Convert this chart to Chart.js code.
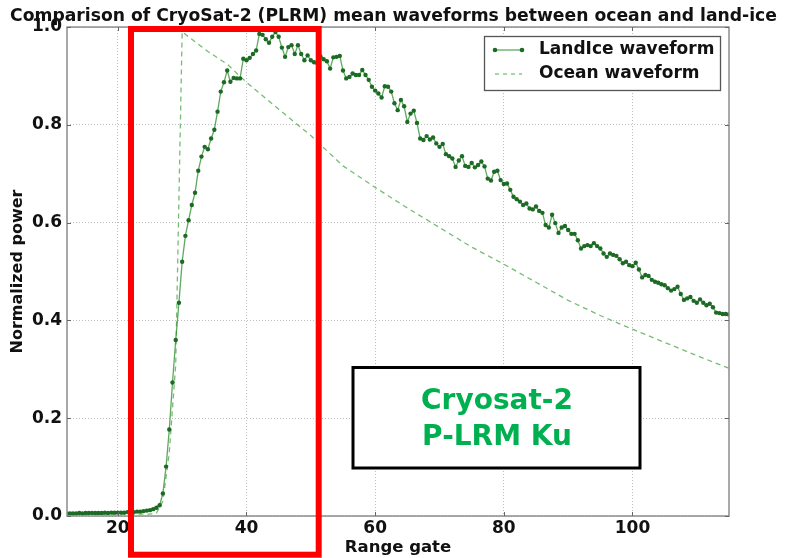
<!DOCTYPE html>
<html>
<head>
<meta charset="utf-8">
<script src="https://cdn.jsdelivr.net/npm/chart.js@4.4.0/dist/chart.umd.min.js"></script>
<style>
  html, body { margin: 0; padding: 0; background: #fff; }
  #wrap { position: relative; width: 787px; height: 558px; }
</style>
</head>
<body>
<div id="wrap"><canvas id="chart" width="787" height="558"></canvas></div>
<script>
// ---- values ----
const chartTitle = "Comparison of CryoSat-2 (PLRM) mean waveforms between ocean and land-ice";
const seriesNames = ["LandIce waveform", "Ocean waveform"];
const boxLines = ["Cryosat-2", "P-LRM Ku"];
const xTitle = "Range gate";
const yTitle = "Normalized power";

const xTicks = [20, 40, 60, 80, 100];
const yTicks = [0, 0.2, 0.4, 0.6, 0.8, 1.0];

// land-ice mean waveform, one sample every half range gate starting at gate 12
const landStart = 12;
const landStep = 0.5;
const landPower = [
  0.005, 0.005, 0.005, 0.005, 0.006, 0.005, 0.006, 0.006, 0.006, 0.006,
  0.006, 0.006, 0.007, 0.006, 0.007, 0.007, 0.007, 0.007, 0.007, 0.008,
  0.008, 0.008, 0.009, 0.009, 0.010, 0.011, 0.012, 0.014, 0.017,
  0.022, 0.046, 0.101, 0.177, 0.273, 0.360, 0.436, 0.520, 0.573,
  0.605, 0.636, 0.661, 0.706, 0.735, 0.755, 0.750, 0.772, 0.790, 0.827,
  0.868, 0.887, 0.911, 0.888, 0.896, 0.895, 0.895, 0.935, 0.932, 0.937,
  0.945, 0.952, 0.986, 0.984, 0.975, 0.968, 0.980, 0.990, 0.980, 0.958,
  0.939, 0.959, 0.963, 0.945, 0.963, 0.945, 0.932, 0.942, 0.932, 0.928,
  0.926, 0.940, 0.934, 0.930, 0.915, 0.938, 0.939, 0.941, 0.911, 0.895,
  0.898, 0.905, 0.902, 0.902, 0.912, 0.902, 0.892, 0.878, 0.870, 0.864,
  0.856, 0.879, 0.878, 0.868, 0.844, 0.830, 0.851, 0.838, 0.806, 0.823,
  0.829, 0.804, 0.772, 0.769, 0.777, 0.770, 0.774, 0.762, 0.755, 0.761,
  0.740, 0.736, 0.731, 0.714, 0.727, 0.736, 0.716, 0.714, 0.722, 0.713,
  0.718, 0.725, 0.715, 0.690, 0.686, 0.704, 0.706, 0.687, 0.679, 0.680,
  0.667, 0.653, 0.648, 0.643, 0.636, 0.639, 0.629, 0.627, 0.633, 0.624,
  0.620, 0.595, 0.590, 0.616, 0.599, 0.579, 0.590, 0.593, 0.585, 0.577,
  0.577, 0.564, 0.547, 0.552, 0.554, 0.552, 0.558, 0.552, 0.547, 0.537,
  0.530, 0.537, 0.534, 0.532, 0.525, 0.517, 0.520, 0.513, 0.511, 0.518,
  0.504, 0.488, 0.493, 0.491, 0.483, 0.479, 0.477, 0.474, 0.472, 0.466,
  0.461, 0.464, 0.469, 0.454, 0.442, 0.445, 0.448, 0.440, 0.436, 0.443,
  0.436, 0.431, 0.434, 0.427, 0.416, 0.415, 0.413, 0.413, 0.412
];

// ocean mean waveform (dashed)
const oceanGates = [12, 20, 25, 26, 27, 28, 29, 30, 32, 34, 37, 40, 45, 50, 55,
  60, 65, 70, 75, 80, 85, 90, 95, 100, 105, 110, 115];
const oceanPower = [0.003, 0.003, 0.004, 0.006, 0.03, 0.13, 0.31, 0.99, 0.97, 0.95,
  0.924, 0.887, 0.832, 0.778, 0.716, 0.672, 0.630, 0.590, 0.550, 0.515, 0.478,
  0.441, 0.410, 0.382, 0.355, 0.328, 0.302];

// ---- styling ----
const FONT = "'DejaVu Sans', sans-serif";
const landLine = "rgba(40,140,40,0.75)";
const landDot = "#1c6a24";
const oceanLine = "rgba(60,160,60,0.7)";
const gridColor = "#bdbdbd";

const landPoints = landPower.map((p, i) => ({ x: landStart + i * landStep, y: p }));
const oceanPoints = oceanGates.map((g, i) => ({ x: g, y: oceanPower[i] }));

// frame, inward ticks, legend, text box and red highlight drawn on top
const overlay = {
  id: "overlay",
  afterDraw(chart) {
    const { ctx, chartArea: a, scales } = chart;
    const seg = (x1, y1, x2, y2) => { ctx.beginPath(); ctx.moveTo(x1, y1); ctx.lineTo(x2, y2); ctx.stroke(); };
    ctx.save();

    // axes frame
    ctx.strokeStyle = "#8c8c8c";
    ctx.lineWidth = 1.5;
    ctx.strokeRect(a.left, a.top, a.right - a.left, a.bottom - a.top);

    // inward tick marks
    ctx.strokeStyle = "#666";
    ctx.lineWidth = 1;
    xTicks.forEach(v => {
      const px = Math.round(scales.x.getPixelForValue(v)) + 0.5;
      seg(px, a.bottom, px, a.bottom - 4);
      seg(px, a.top, px, a.top + 4);
    });
    yTicks.forEach(v => {
      const py = Math.round(scales.y.getPixelForValue(v)) + 0.5;
      seg(a.left, py, a.left + 4, py);
      seg(a.right, py, a.right - 4, py);
    });

    // legend
    ctx.fillStyle = "#fff";
    ctx.fillRect(484.5, 36.5, 236, 54);
    ctx.strokeStyle = "#555";
    ctx.lineWidth = 1.3;
    ctx.strokeRect(484.5, 36.5, 236, 54);
    ctx.strokeStyle = landLine;
    ctx.lineWidth = 1.3;
    seg(495, 50, 522, 50);
    ctx.fillStyle = landDot;
    [495, 522].forEach(x => { ctx.beginPath(); ctx.arc(x, 50, 2.3, 0, Math.PI * 2); ctx.fill(); });
    ctx.strokeStyle = oceanLine;
    ctx.setLineDash([4, 4]);
    seg(495, 74, 522, 74);
    ctx.setLineDash([]);
    ctx.fillStyle = "#111";
    ctx.font = "bold 17px " + FONT;
    ctx.textBaseline = "middle";
    ctx.textAlign = "left";
    ctx.fillText(seriesNames[0], 539, 50);
    ctx.fillText(seriesNames[1], 539, 74);

    // annotation box
    ctx.fillStyle = "#fff";
    ctx.fillRect(353, 367.5, 287, 100.5);
    ctx.strokeStyle = "#000";
    ctx.lineWidth = 3;
    ctx.strokeRect(353, 367.5, 287, 100.5);
    ctx.fillStyle = "#00b050";
    ctx.font = "bold 28px " + FONT;
    ctx.textAlign = "center";
    ctx.fillText(boxLines[0], 497, 402);
    ctx.fillText(boxLines[1], 497, 438);

    // red highlight rectangle
    ctx.strokeStyle = "#ff0000";
    ctx.lineWidth = 6;
    ctx.strokeRect(131, 29, 187.7, 525.7);

    ctx.restore();
  }
};

new Chart(document.getElementById("chart"), {
  type: "line",
  data: {
    datasets: [
      {
        label: seriesNames[0],
        data: landPoints,
        borderColor: landLine,
        borderWidth: 1.3,
        pointRadius: 2.2,
        pointBorderWidth: 0,
        pointBackgroundColor: landDot,
        tension: 0,
        clip: 0
      },
      {
        label: seriesNames[1],
        data: oceanPoints,
        borderColor: oceanLine,
        borderWidth: 1.3,
        borderDash: [5, 4],
        pointRadius: 0,
        tension: 0,
        clip: 0
      }
    ]
  },
  options: {
    responsive: false,
    animation: false,
    devicePixelRatio: 1,
    layout: { padding: 0 },
    plugins: {
      legend: { display: false },
      tooltip: { enabled: false },
      title: {
        display: true,
        text: chartTitle,
        color: "#111",
        font: { family: FONT, size: 17.2, weight: "bold" },
        padding: { top: 6, bottom: 0.4 }
      }
    },
    scales: {
      x: {
        type: "linear",
        min: 12.1,
        max: 115,
        afterBuildTicks: s => { s.ticks = xTicks.map(v => ({ value: v })); },
        afterFit: s => { s.height = 42; },
        grid: { color: gridColor, lineWidth: 1, drawTicks: false },
        border: { display: false, dash: [1, 2] },
        ticks: { color: "#111", padding: 2, font: { family: FONT, size: 17, weight: "bold" } },
        title: {
          display: true, text: xTitle, color: "#111",
          font: { family: FONT, size: 16.5, weight: "bold" },
          padding: { top: 0, bottom: 0.5 }
        }
      },
      y: {
        min: 0,
        max: 1,
        afterBuildTicks: s => { s.ticks = yTicks.map(v => ({ value: v })); },
        afterFit: s => { s.width = 67; },
        grid: { color: gridColor, lineWidth: 1, drawTicks: false },
        border: { display: false, dash: [1, 2] },
        ticks: {
          color: "#111", padding: 5,
          font: { family: FONT, size: 17, weight: "bold" },
          callback: v => v.toFixed(1)
        },
        title: {
          display: true, text: yTitle, color: "#111",
          font: { family: FONT, size: 16, weight: "bold" },
          padding: { top: 8.4, bottom: 0 }
        }
      },
      // empty right-hand box so the plot ends at x = 729 while the title keeps the full width
      spacer: {
        type: "linear",
        position: "right",
        afterFit: s => { s.width = 58; },
        grid: { display: false },
        border: { display: false },
        ticks: { display: false }
      }
    }
  },
  plugins: [overlay]
});
</script>
</body>
</html>
